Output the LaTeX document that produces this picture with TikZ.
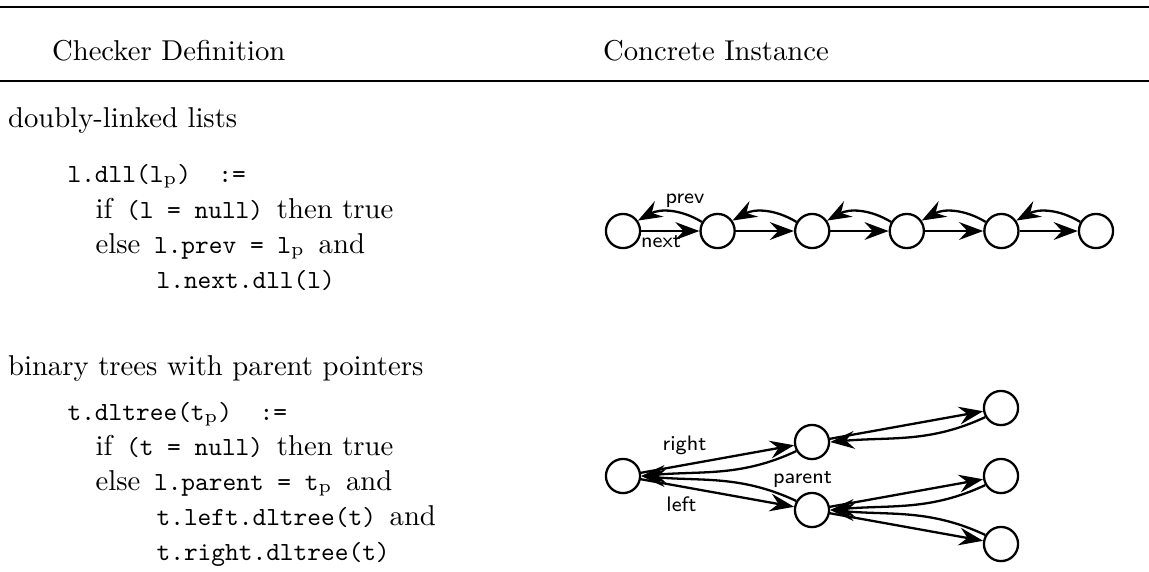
\documentclass[tikz,border=0pt]{standalone}
\usepackage{fontspec}
\setmonofont{lmmono10-regular.otf}
\usetikzlibrary{arrows.meta}
% roman words inside the typewriter code lines
\newcommand\rmtxt[1]{{\fontsize{10}{12}\selectfont\rmfamily #1}}
\newcommand\subp{\textsubscript{\rmfamily p}}
\begin{document}
\begin{tikzpicture}[x=0.3484pt, y=-0.3484pt,
  rec/.style={circle, draw, line width=0.8pt, minimum size=11.9pt, inner sep=0pt},
  ptr/.style={line width=0.8pt, -{Stealth[length=8.4pt,width=6.2pt,inset=2.9pt]}},
  parentup/.style={ptr, out=205, in=5},
  parentdown/.style={ptr, out=155, in=-5},
  lbl/.style={font=\fontsize{7.3}{8}\selectfont\sffamily, inner sep=0pt, anchor=base},
  prose/.style={anchor=base west, inner sep=0pt, font=\fontsize{10}{12}\selectfont\rmfamily},
  code/.style={anchor=base west, inner sep=0pt, font=\fontsize{9.1}{11}\selectfont\ttfamily}]
\useasboundingbox (0,0) rectangle (1149,571);

% table rules
\draw[line width=0.8pt] (0,7.3) -- (1149,7.3);
\draw[line width=0.5pt] (0,81) -- (1149,81);

% header
\node[prose] (hdef) at (51.5,60) {Checker Definition};
\node[prose] (hinst) at (602.5,60) {Concrete Instance};

% doubly-linked lists
\node[prose] (sdll) at (7.5,127) {doubly-linked lists};
\node[code] (d1) at (67,182) {l.dll(l\subp)\ \ :=};
\node[code] (d2) at (95,218) {\rmtxt{if} (l = null) \rmtxt{then true}};
\node[code] (d3) at (95,253) {\rmtxt{else} l.prev = l\subp{} \rmtxt{and}};
\node[code] (d4) at (156,288) {l.next.dll(l)};

\foreach \i/\x in {1/623,2/717.6,3/812.2,4/906.8,5/1001.4,6/1096}
  \node[rec] (n\i) at (\x,231) {};
\foreach \i/\j in {1/2,2/3,3/4,4/5,5/6}{
  \draw[ptr] (n\i) -- (n\j);
  \draw[ptr] (n\j.150) to[bend right=30] (n\i.35);
}
\node[lbl] (lprev) at (685,203) {prev};
\node[lbl] (lnext) at (661,247) {next};

% binary trees with parent pointers
\node[prose] (stree) at (7.5,375) {binary trees with parent pointers};
\node[code] (t1) at (67,420) {t.dltree(t\subp)\ \ :=};
\node[code] (t2) at (95,455) {\rmtxt{if} (t = null) \rmtxt{then true}};
\node[code] (t3) at (95,490) {\rmtxt{else} l.parent = t\subp{} \rmtxt{and}};
\node[code] (t4) at (156,525) {t.left.dltree(t) \rmtxt{and}};
\node[code] (t5) at (156,560) {t.right.dltree(t)};

\node[rec] (r) at (623,476) {};
\node[rec] (a) at (812,442) {};
\node[rec] (b) at (812,510) {};
\node[rec] (c) at (1001,408) {};
\node[rec] (d) at (1001,476) {};
\node[rec] (e) at (1001,544) {};

\draw[ptr] (r) -- (a);
\draw[ptr] (r) -- (b);
\draw[ptr] (a) -- (c);
\draw[ptr] (b) -- (d);
\draw[ptr] (b) -- (e);
\draw[parentup] (a.210) to (r.east);
\draw[parentdown] (b.150) to (r.east);
\draw[parentup] (c.210) to (a.east);
\draw[parentup] (d.210) to (b.east);
\draw[parentdown] (e.150) to (b.east);

\node[lbl] (lright) at (684.5,450) {right};
\node[lbl] (lleft) at (681.5,511) {left};
\node[lbl] (lparent) at (802.5,483) {parent};
\end{tikzpicture}
\end{document}
